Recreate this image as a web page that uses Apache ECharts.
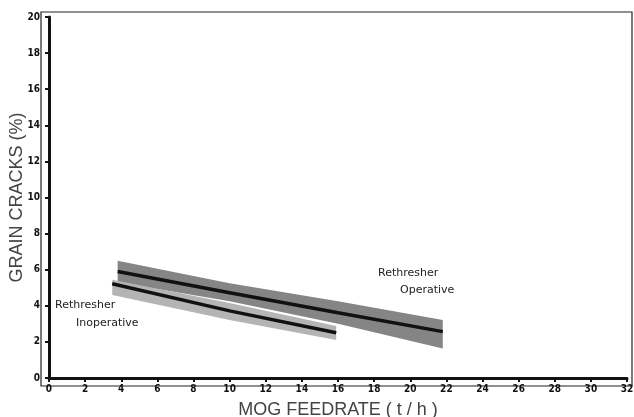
<!DOCTYPE html>
<html>
<head>
<meta charset="utf-8">
<script src="https://cdn.jsdelivr.net/npm/echarts@6/dist/echarts.min.js"></script>
<style>html,body{margin:0;padding:0;background:#fff;}#c{width:634px;height:417px;}</style>
</head>
<body>
<div id="c"></div>
<script>
// Rethresher Operative (upper, darker band)
const opX     = [3.8, 10.0, 16.0, 21.8];
const opLine  = [5.9, 4.72, 3.62, 2.57];
const opUpper = [6.5, 5.25, 4.25, 3.22];
const opLower = [5.3, 4.25, 3.0, 1.64];
// Rethresher Inoperative (lower, lighter band)
const inX     = [3.5, 10.0, 15.9];
const inLine  = [5.22, 3.72, 2.51];
const inUpper = [5.45, 4.15, 2.88];
const inLower = [4.6, 3.21, 2.1];

const xTicks = [0,2,4,6,8,10,12,14,16,18,20,22,24,26,28,30,32];
const yTicks = [0,2,4,6,8,10,12,14,16,18,20];

function pairs(xs, ys){ return xs.map((x,i)=>[x, ys[i]]); }

function bandSeries(xs, up, lo, color){
  return {
    type: 'custom', xAxisIndex: 1, yAxisIndex: 1, silent: true,
    data: [0],
    renderItem: function(params, api){
      const pts = [];
      for (let i=0;i<xs.length;i++) pts.push(api.coord([xs[i], up[i]]));
      for (let i=xs.length-1;i>=0;i--) pts.push(api.coord([xs[i], lo[i]]));
      return { type: 'polygon', shape: { points: pts }, style: { fill: color } };
    }
  };
}

const labelFont = { fontSize: 10, fontWeight: 'bold', fontFamily: 'DejaVu Sans Condensed, Liberation Sans Narrow, sans-serif', color: '#111' };
const noteFont = '11px DejaVu Sans, sans-serif';

const chart = echarts.init(document.getElementById('c'), null, {renderer: 'canvas'});
chart.setOption({
  animation: false,
  backgroundColor: '#fff',
  grid: [
    { left: 41, top: 12, right: 2, bottom: 31, show: true, borderColor: '#222', borderWidth: 1.2, backgroundColor: 'transparent', outerBoundsMode: 'none', containLabel: false },
    { left: 49, top: 17, right: 7, bottom: 39, outerBoundsMode: 'none', containLabel: false }
  ],
  xAxis: [
    { gridIndex: 0, type: 'value', show: false, min: 0, max: 1 },
    { gridIndex: 1, type: 'value', min: 0, max: 32, interval: 2, offset: 2,
      name: 'MOG FEEDRATE ( t / h )', nameLocation: 'middle', nameGap: 21,
      nameTextStyle: { fontSize: 18, color: '#444', fontFamily: 'Liberation Sans, Arial, sans-serif' },
      axisLine: { lineStyle: { color: '#111', width: 3 } },
      axisTick: { length: 4, lineStyle: { color: '#111', width: 2 } },
      axisLabel: Object.assign({ margin: 4, formatter: v => xTicks.includes(v) ? String(v) : '' }, labelFont),
      splitLine: { show: false } }
  ],
  yAxis: [
    { gridIndex: 0, type: 'value', show: false, min: 0, max: 1 },
    { gridIndex: 1, type: 'value', min: 0, max: 20, interval: 2, offset: 4,
      name: 'GRAIN CRACKS (%)', nameLocation: 'middle', nameGap: 19, nameMoveOverlap: false,
      nameTextStyle: { fontSize: 18, color: '#444', fontFamily: 'Liberation Sans, Arial, sans-serif' },
      axisLine: { lineStyle: { color: '#111', width: 3 } },
      axisTick: { length: 4, lineStyle: { color: '#111', width: 2 } },
      axisLabel: Object.assign({ margin: 5, formatter: v => yTicks.includes(v) ? String(v) : '' }, labelFont),
      splitLine: { show: false } }
  ],
  series: [
    bandSeries(opX, opUpper, opLower, '#858585'),
    bandSeries(inX, inUpper, inLower, '#b4b4b4'),
    { type: 'line', xAxisIndex: 1, yAxisIndex: 1, data: pairs(opX, opLine), symbol: 'none',
      lineStyle: { color: '#111', width: 3.5 } },
    { type: 'line', xAxisIndex: 1, yAxisIndex: 1, data: pairs(inX, inLine), symbol: 'none',
      lineStyle: { color: '#111', width: 3.5 } }
  ],
  graphic: [
    { type: 'text', left: 378, top: 268, style: { text: 'Rethresher', font: noteFont, fill: '#222' } },
    { type: 'text', left: 400, top: 285, style: { text: 'Operative', font: noteFont, fill: '#222' } },
    { type: 'text', left: 55, top: 300, style: { text: 'Rethresher', font: noteFont, fill: '#222' } },
    { type: 'text', left: 76, top: 318, style: { text: 'Inoperative', font: noteFont, fill: '#222' } }
  ]
});
</script>
</body>
</html>
